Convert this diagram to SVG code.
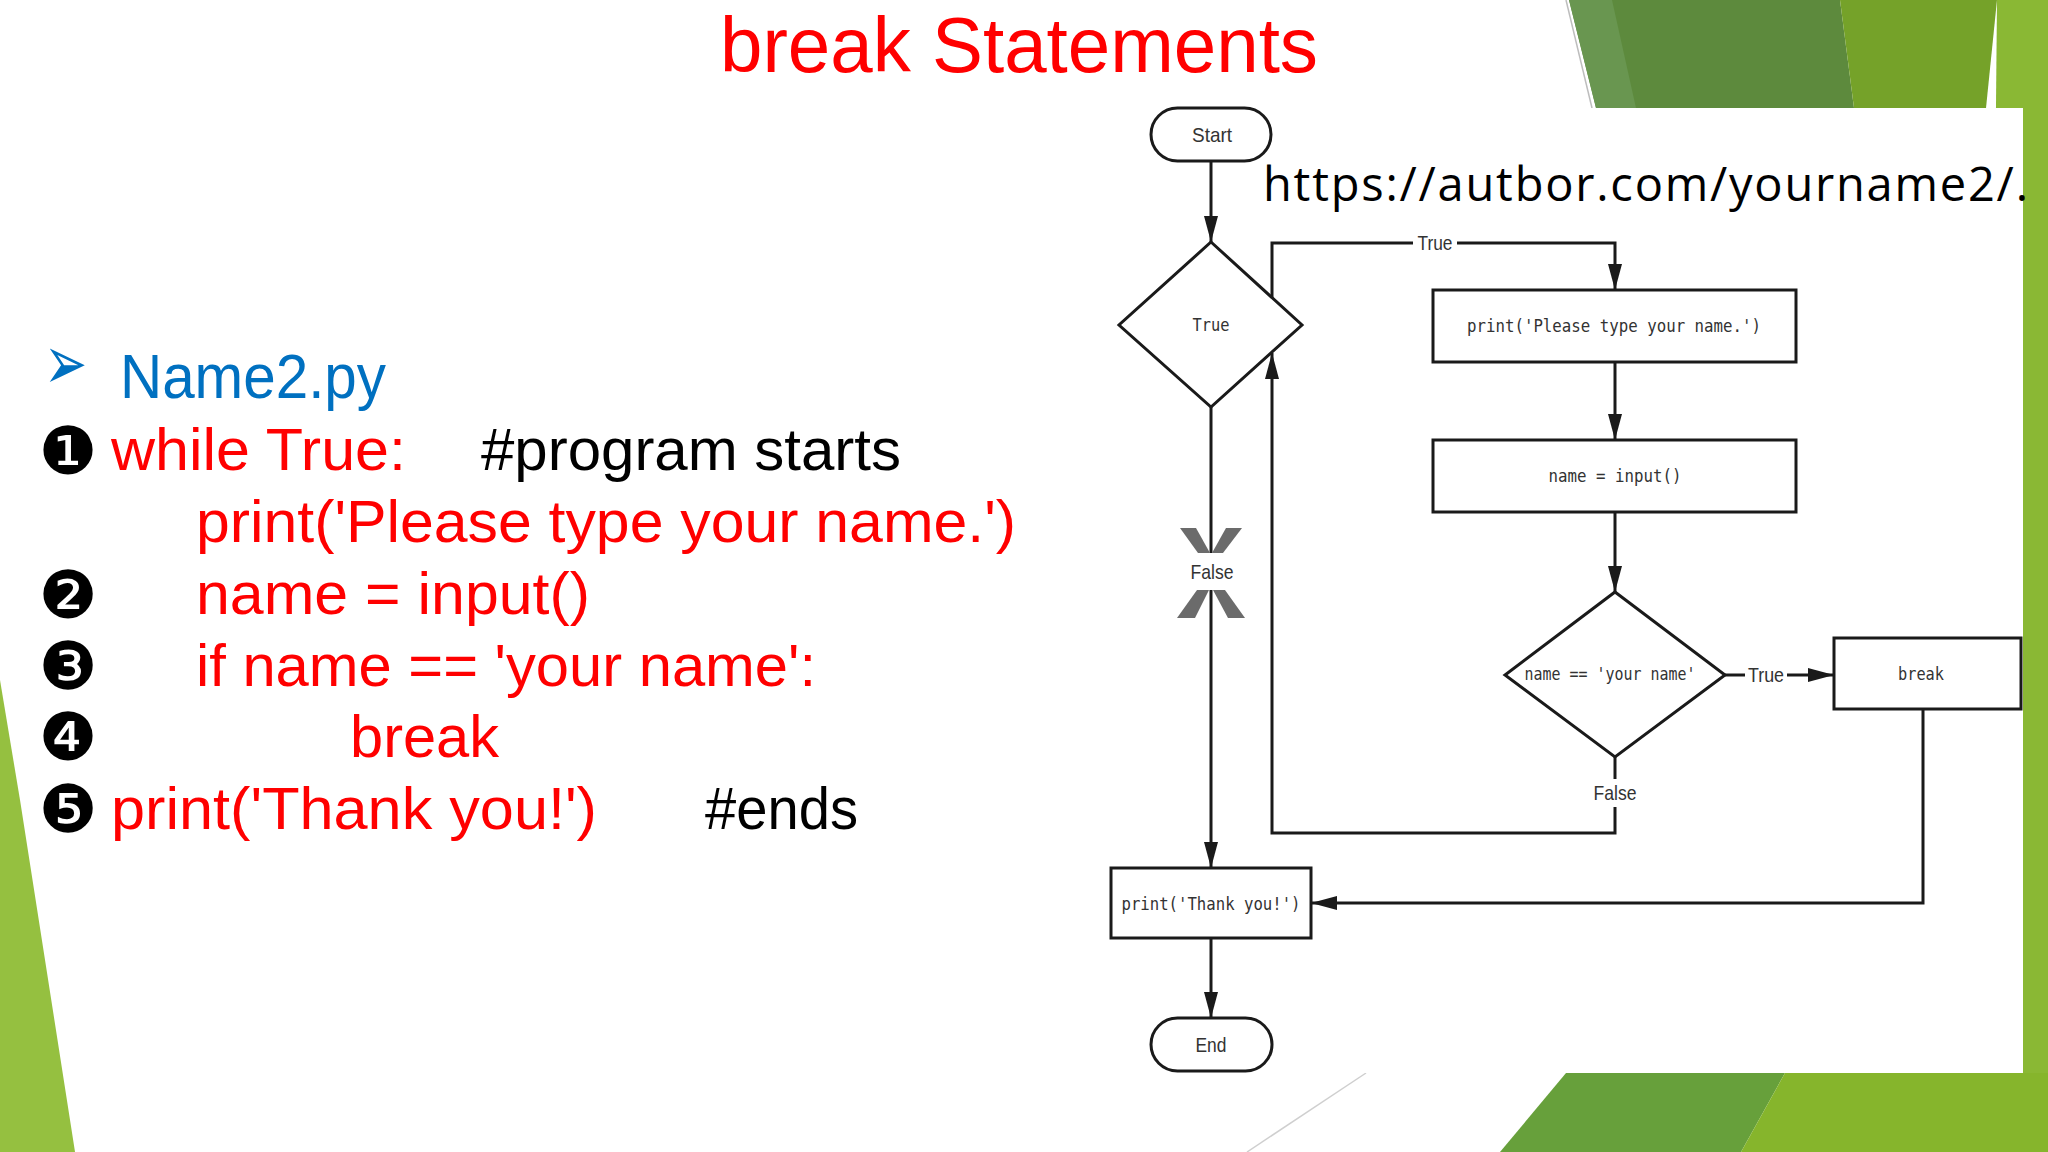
<svg xmlns="http://www.w3.org/2000/svg" width="2048" height="1152" viewBox="0 0 2048 1152">
  <defs>
    <marker id="arrow" markerUnits="userSpaceOnUse" markerWidth="26" markerHeight="14" refX="26" refY="7" orient="auto">
      <path d="M0,0 L26,7 L0,14 z" fill="#1a1a1a"/>
    </marker>
    <style>
      .code { font-family: "Liberation Sans", Arial, sans-serif; font-size: 60px; }
      .red { fill: #ff0000; }
      .blk { fill: #000000; }
      .num { font-family: "DejaVu Sans", sans-serif; font-size: 66px; fill: #000; text-anchor: middle; }
      .box { fill: #ffffff; stroke: #1a1a1a; stroke-width: 3; }
      .mono { font-family: "DejaVu Sans Mono", "Liberation Mono", monospace; font-size: 17px; fill: #333; text-anchor: middle; }
      .lbl { font-family: "Liberation Sans", Arial, sans-serif; font-size: 21px; fill: #333; text-anchor: middle; }
      .conn { fill: none; stroke: #1a1a1a; stroke-width: 3; }
    </style>
  </defs>

  <!-- background -->
  <rect x="0" y="0" width="2048" height="1152" fill="#ffffff"/>
  <g id="decor">
    <polygon points="1569,0 1840,0 1854,108 1596,108" fill="#5d8a3d"/>
    <polygon points="1569,0 1612,0 1636,108 1596,108" fill="#699650"/>
    <polygon points="1840,0 1997,0 1986,108 1854,108" fill="#75a229"/>
    <polygon points="1997,0 2048,0 2048,1152 1986,1152" fill="#8ab834"/>
    <line x1="1566" y1="0" x2="1592" y2="108" stroke="#bdbdbd" stroke-width="1.5"/>
    <polygon points="1566,1073 1785,1073 1741,1152 1500,1152" fill="#67a03b"/>
    <polygon points="1785,1073 2048,1073 2048,1152 1741,1152" fill="#86b52c"/>
    <line x1="1366" y1="1073" x2="1247" y2="1152" stroke="#cfcfcf" stroke-width="1.5"/>
    <polygon points="0,680 20,800 75,1152 0,1152" fill="#95c040"/>
    <rect x="1130" y="108" width="893" height="965" fill="#ffffff"/>
  </g>

  <!-- title -->
  <text id="title" x="720" y="72" font-family="'Liberation Sans', Arial, sans-serif" font-size="78" fill="#ff0000" textLength="598" lengthAdjust="spacingAndGlyphs">break Statements</text>

  <!-- code listing -->
  <g id="code">
    <text transform="translate(44,389) scale(0.68,1)" x="0" y="0" font-family="'DejaVu Sans', sans-serif" font-size="76" fill="#0070c0">➢</text>
    <text x="120" y="398" font-family="'Liberation Sans', Arial, sans-serif" font-size="63" fill="#0070c0" textLength="266" lengthAdjust="spacingAndGlyphs">Name2.py</text>

    <text class="num" x="68" y="474">❶</text>
    <text class="code red" x="111" y="470" textLength="295" lengthAdjust="spacingAndGlyphs">while True:</text>
    <text class="code blk" x="481" y="470" textLength="420" lengthAdjust="spacingAndGlyphs">#program starts</text>

    <text class="code red" x="196" y="542" textLength="820" lengthAdjust="spacingAndGlyphs">print('Please type your name.')</text>

    <text class="num" x="68" y="618">❷</text>
    <text class="code red" x="196" y="614" textLength="394" lengthAdjust="spacingAndGlyphs">name = input()</text>

    <text class="num" x="68" y="689">❸</text>
    <text class="code red" x="196" y="686" textLength="620" lengthAdjust="spacingAndGlyphs">if name == 'your name':</text>

    <text class="num" x="68" y="760">❹</text>
    <text class="code red" x="350" y="757" textLength="149" lengthAdjust="spacingAndGlyphs">break</text>

    <text class="num" x="68" y="832">❺</text>
    <text class="code red" x="111" y="829" textLength="486" lengthAdjust="spacingAndGlyphs">print('Thank you!')</text>
    <text class="code blk" x="705" y="829" textLength="153" lengthAdjust="spacingAndGlyphs">#ends</text>
  </g>

  <!-- URL -->
  <text id="url" x="1263" y="201" font-family="'Open Sans', 'Liberation Sans', sans-serif" font-size="47" fill="#000" textLength="765" lengthAdjust="spacing">https://autbor.com/yourname2/.</text>

  <!-- connectors -->
  <g id="connectors">
    <path class="conn" d="M1211,161 V242" marker-end="url(#arrow)"/>
    <path class="conn" d="M1272,298 V243 H1413"/>
    <path class="conn" d="M1457,243 H1615 V290" marker-end="url(#arrow)"/>
    <path class="conn" d="M1615,362 V440" marker-end="url(#arrow)"/>
    <path class="conn" d="M1615,512 V592" marker-end="url(#arrow)"/>
    <path class="conn" d="M1725,675 H1745"/>
    <path class="conn" d="M1787,675 H1834" marker-end="url(#arrow)"/>
    <path class="conn" d="M1615,757 V779"/>
    <path class="conn" d="M1615,807 V833 H1272 V353" marker-end="url(#arrow)"/>
    <path class="conn" d="M1211,407 V553"/>
    <path class="conn" d="M1211,590 V868" marker-end="url(#arrow)"/>
    <path class="conn" d="M1923,709 V903 H1311" marker-end="url(#arrow)"/>
    <path class="conn" d="M1211,938 V1018" marker-end="url(#arrow)"/>

    <g id="false-break-mark" fill="#6b6b6b">
      <polygon points="1180,528 1196,528 1210,553 1198,553"/>
      <polygon points="1226,528 1242,528 1223,553 1212,553"/>
      <polygon points="1197,590 1209,590 1195,618 1177,618"/>
      <polygon points="1213,590 1225,590 1245,618 1228,618"/>
    </g>
    <text class="lbl" x="1435" y="250" textLength="35" lengthAdjust="spacingAndGlyphs">True</text>
    <text class="lbl" x="1766" y="682" textLength="36" lengthAdjust="spacingAndGlyphs">True</text>
    <text class="lbl" x="1615" y="800" textLength="43" lengthAdjust="spacingAndGlyphs">False</text>
    <text class="lbl" x="1212" y="579" textLength="43" lengthAdjust="spacingAndGlyphs">False</text>
  </g>

  <!-- nodes -->
  <g id="start">
    <rect class="box" x="1151" y="108" width="120" height="53" rx="26.5"/>
    <text class="lbl" x="1212" y="142" textLength="40" lengthAdjust="spacingAndGlyphs">Start</text>
  </g>
  <g id="while-true">
    <polygon class="box" points="1211,242 1302,325 1211,407 1119,325"/>
    <text class="mono" x="1211" y="331" textLength="37" lengthAdjust="spacingAndGlyphs">True</text>
  </g>
  <g id="print-please">
    <rect class="box" x="1433" y="290" width="363" height="72"/>
    <text class="mono" x="1614" y="332" textLength="294" lengthAdjust="spacingAndGlyphs">print('Please type your name.')</text>
  </g>
  <g id="name-input">
    <rect class="box" x="1433" y="440" width="363" height="72"/>
    <text class="mono" x="1615" y="482" textLength="133" lengthAdjust="spacingAndGlyphs">name = input()</text>
  </g>
  <g id="if-name">
    <polygon class="box" points="1615,592 1725,675 1615,757 1505,675"/>
    <text class="mono" x="1610" y="680" textLength="171" lengthAdjust="spacingAndGlyphs">name == 'your name'</text>
  </g>
  <g id="break">
    <rect class="box" x="1834" y="638" width="187" height="71"/>
    <text class="mono" x="1921" y="680" textLength="46" lengthAdjust="spacingAndGlyphs">break</text>
  </g>
  <g id="print-thanks">
    <rect class="box" x="1111" y="868" width="200" height="70"/>
    <text class="mono" x="1211" y="910" textLength="179" lengthAdjust="spacingAndGlyphs">print('Thank you!')</text>
  </g>
  <g id="end">
    <rect class="box" x="1151" y="1018" width="121" height="53" rx="26.5"/>
    <text class="lbl" x="1211" y="1052" textLength="31" lengthAdjust="spacingAndGlyphs">End</text>
  </g>
</svg>
